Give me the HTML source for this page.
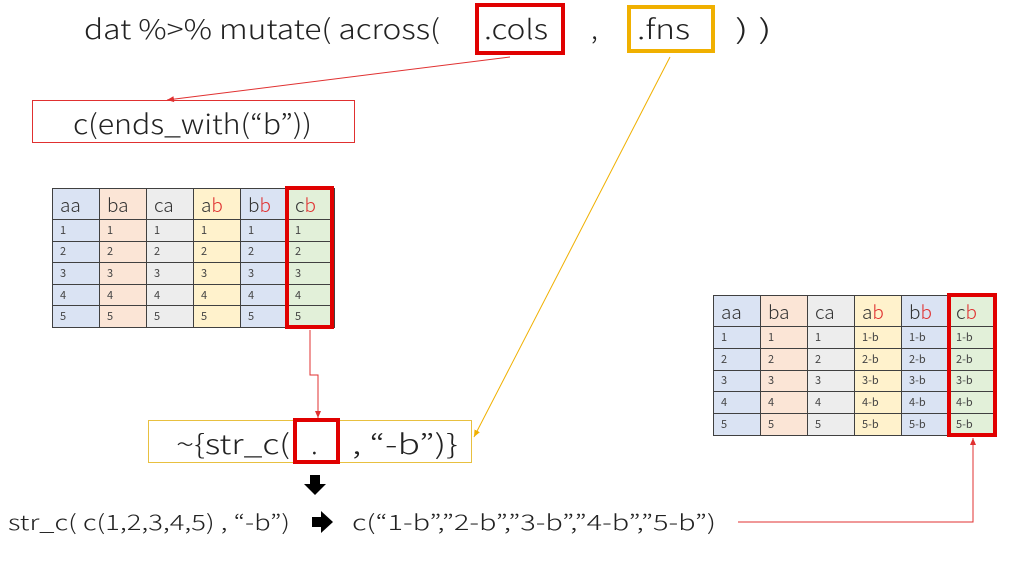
<!DOCTYPE html>
<html><head><meta charset="utf-8"><style>
body{margin:0;width:1024px;height:576px;background:#fff;position:relative;overflow:hidden;font-family:"Liberation Sans","Noto Sans CJK JP",sans-serif;color:#222}
table{position:absolute;border-collapse:collapse;font-family:"Noto Sans CJK JP","Liberation Sans",sans-serif;table-layout:fixed}
td{box-sizing:border-box;border:1.2px solid #404040;padding:0 0 0 7px;font-size:11px;color:#444;width:47px;overflow:hidden;line-height:1}
tr.h td{font-size:19px;color:#333;font-weight:300}
.c1{background:#dae3f3}.c2{background:#fbe5d6}.c3{background:#ededed}.c4{background:#fff2cc}.c5{background:#dae3f3}.c6{background:#e2f0d9}
.r{color:#e03030}
#t1 tr.h td{height:31px}#t1 td{height:21.6px}
#t2 tr.h td{height:31px}#t2 td{height:21.8px}
.box{position:absolute;box-sizing:border-box}
svg text{font-family:"Noto Sans CJK JP","Liberation Sans",sans-serif;font-weight:300;fill:#222}
</style></head><body>
<table id="t1" style="left:52px;top:188px;width:282px">
<tr class="h"><td class="c1">aa</td><td class="c2">ba</td><td class="c3">ca</td><td class="c4">a<span class="r">b</span></td><td class="c5">b<span class="r">b</span></td><td class="c6">c<span class="r">b</span></td></tr>
<tr><td class="c1">1</td><td class="c2">1</td><td class="c3">1</td><td class="c4">1</td><td class="c5">1</td><td class="c6">1</td></tr>
<tr><td class="c1">2</td><td class="c2">2</td><td class="c3">2</td><td class="c4">2</td><td class="c5">2</td><td class="c6">2</td></tr>
<tr><td class="c1">3</td><td class="c2">3</td><td class="c3">3</td><td class="c4">3</td><td class="c5">3</td><td class="c6">3</td></tr>
<tr><td class="c1">4</td><td class="c2">4</td><td class="c3">4</td><td class="c4">4</td><td class="c5">4</td><td class="c6">4</td></tr>
<tr><td class="c1">5</td><td class="c2">5</td><td class="c3">5</td><td class="c4">5</td><td class="c5">5</td><td class="c6">5</td></tr>
</table>
<div class="box" style="left:285px;top:186px;width:49px;height:143px;border:4px solid #e00000"></div>

<table id="t2" style="left:713px;top:295px;width:282px">
<tr class="h"><td class="c1">aa</td><td class="c2">ba</td><td class="c3">ca</td><td class="c4">a<span class="r">b</span></td><td class="c5">b<span class="r">b</span></td><td class="c6">c<span class="r">b</span></td></tr>
<tr><td class="c1">1</td><td class="c2">1</td><td class="c3">1</td><td class="c4">1-b</td><td class="c5">1-b</td><td class="c6">1-b</td></tr>
<tr><td class="c1">2</td><td class="c2">2</td><td class="c3">2</td><td class="c4">2-b</td><td class="c5">2-b</td><td class="c6">2-b</td></tr>
<tr><td class="c1">3</td><td class="c2">3</td><td class="c3">3</td><td class="c4">3-b</td><td class="c5">3-b</td><td class="c6">3-b</td></tr>
<tr><td class="c1">4</td><td class="c2">4</td><td class="c3">4</td><td class="c4">4-b</td><td class="c5">4-b</td><td class="c6">4-b</td></tr>
<tr><td class="c1">5</td><td class="c2">5</td><td class="c3">5</td><td class="c4">5-b</td><td class="c5">5-b</td><td class="c6">5-b</td></tr>
</table>
<div class="box" style="left:947px;top:293px;width:50px;height:144px;border:4px solid #e00000"></div>

<svg width="1024" height="576" style="position:absolute;left:0;top:0">
<defs>
<marker id="ar" markerWidth="8" markerHeight="8" refX="7" refY="4" orient="auto" markerUnits="userSpaceOnUse"><path d="M0,1 L7,4 L0,7z" fill="#e03030"/></marker>
<marker id="ay" markerWidth="8" markerHeight="8" refX="7" refY="4" orient="auto" markerUnits="userSpaceOnUse"><path d="M0,1 L7,4 L0,7z" fill="#f0b000"/></marker>
</defs>
<line x1="510" y1="57" x2="167" y2="100" stroke="#e03030" stroke-width="1" marker-end="url(#ar)"/>
<line x1="670" y1="57" x2="474" y2="437" stroke="#f0b000" stroke-width="1" marker-end="url(#ay)"/>
<polyline points="310,330 310,375 318,375 318,418" fill="none" stroke="#e03030" stroke-width="1" marker-end="url(#ar)"/>
<polyline points="738,522 973,522 973,438" fill="none" stroke="#e03030" stroke-width="1" marker-end="url(#ar)"/>
<path d="M310,475 h10 v9 h6 l-11,11 l-11,-11 h6z" fill="#000"/>
<path d="M312,517 h9 v-6 l12,11 l-12,11 v-6 h-9z" fill="#000"/>

<rect x="477" y="5" width="86" height="48" fill="none" stroke="#e00000" stroke-width="4"/>
<rect x="629" y="7" width="84" height="44" fill="none" stroke="#f0b000" stroke-width="4"/>
<rect x="32.5" y="100.5" width="322" height="42" fill="none" stroke="#e03030" stroke-width="1"/>
<rect x="148.5" y="420.5" width="323" height="42" fill="none" stroke="#e8c040" stroke-width="1"/>
<rect x="295" y="420" width="43" height="42" fill="none" stroke="#e00000" stroke-width="4"/>

<text x="84" y="39" font-size="27" textLength="356" lengthAdjust="spacingAndGlyphs">dat %&gt;% mutate(  across(</text>
<text x="484" y="39" font-size="27" textLength="64" lengthAdjust="spacingAndGlyphs">.cols</text>
<text x="591" y="39" font-size="27">,</text>
<text x="637" y="39" font-size="27" textLength="53" lengthAdjust="spacingAndGlyphs">.fns</text>
<text x="735" y="39" font-size="27" textLength="37" lengthAdjust="spacingAndGlyphs">) )</text>
<text x="73" y="134" font-size="27" textLength="239" lengthAdjust="spacingAndGlyphs">c(ends_with(“b”))</text>
<text x="176" y="454" font-size="27" textLength="114" lengthAdjust="spacingAndGlyphs">~{str_c(</text>
<text x="311" y="454" font-size="27">.</text>
<text x="352" y="454" font-size="27" textLength="106" lengthAdjust="spacingAndGlyphs">, “-b”)}</text>
<text x="8" y="530" font-size="21" textLength="282" lengthAdjust="spacingAndGlyphs">str_c( c(1,2,3,4,5) , “-b”)</text>
<text x="352" y="530" font-size="21" textLength="364" lengthAdjust="spacingAndGlyphs">c(“1-b”,”2-b”,”3-b”,”4-b”,”5-b”)</text>
</svg>
</body></html>
